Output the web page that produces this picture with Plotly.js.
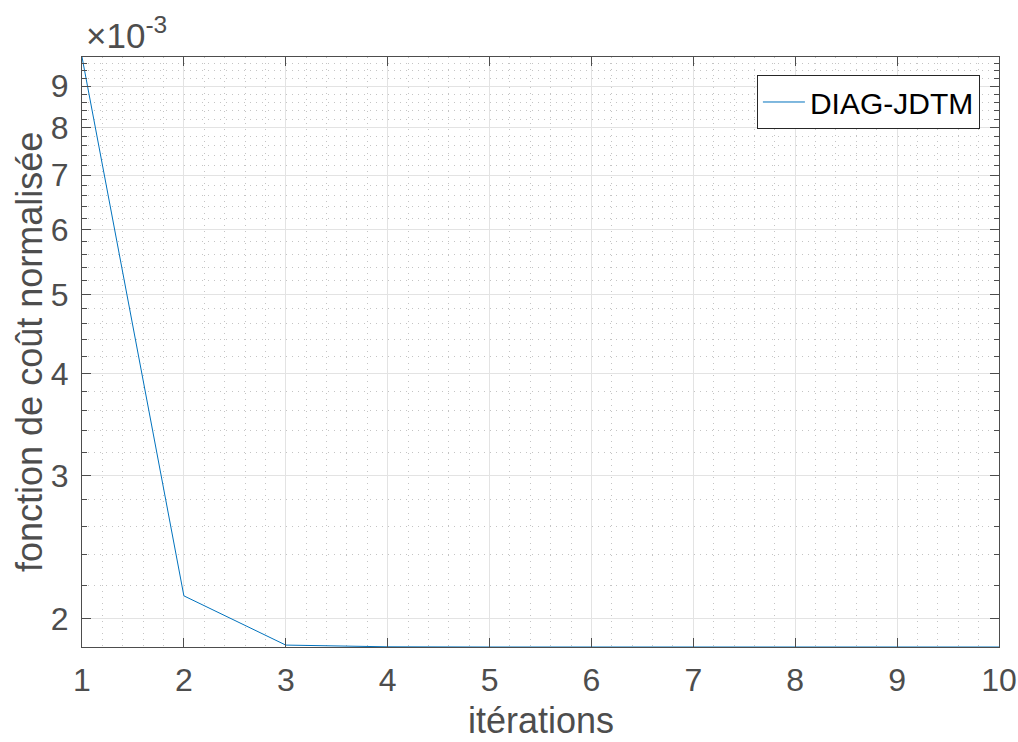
<!DOCTYPE html>
<html>
<head>
<meta charset="utf-8">
<script src="https://cdn.plot.ly/plotly-3.0.1.min.js"></script>
<style>html,body{margin:0;padding:0;background:#fff;}#chart{width:1018px;height:742px;}</style>
</head>
<body>
<div id="chart"></div>
<script>
var iterations = [1, 2, 3, 4, 5, 6, 7, 8, 9, 10];
var cost = [0.00977, 0.002135, 0.001858, 0.001849, 0.001848, 0.001848, 0.001848, 0.001848, 0.001848, 0.001848];
var seriesName = 'DIAG-JDTM';
var yTickVals = [0.002, 0.003, 0.004, 0.005, 0.006, 0.007, 0.008, 0.009];
var yTickText = ['2', '3', '4', '5', '6', '7', '8', '9'];
var xTickVals = [1, 2, 3, 4, 5, 6, 7, 8, 9, 10];
var xTitle = 'itérations';
var yTitle = 'fonction de coût normalisée';
var exponentLabel = '×10<sup>-3</sup>';

var ymin = Math.min.apply(null, cost), ymax = Math.max.apply(null, cost);
var axisColor = '#4d4d4d';
var font = 'Liberation Sans, Arial, sans-serif';
var minorDash = '1px,5px';

var trace = {
  x: iterations, y: cost, type: 'scatter', mode: 'lines', name: seriesName,
  line: {color: '#0072BD', width: 1}
};

var layout = {
  width: 1018, height: 742,
  margin: {l: 82, r: 19, t: 57, b: 95},
  paper_bgcolor: '#fff', plot_bgcolor: '#fff',
  font: {family: font, color: axisColor},
  showlegend: true,
  legend: {
    x: 0.736, y: 0.9695, xanchor: 'left', yanchor: 'top',
    bgcolor: '#fff', bordercolor: '#262626', borderwidth: 1,
    itemwidth: 42,
    font: {family: font, size: 30, color: '#000'}
  },
  xaxis: {
    range: [1, 10], tickvals: xTickVals, ticktext: xTickVals.map(String),
    ticks: 'inside', ticklen: 9, tickcolor: axisColor, tickwidth: 1,
    ticklabelstandoff: 5,
    showline: true, linecolor: axisColor, linewidth: 1, mirror: 'ticks',
    showgrid: true, gridcolor: '#e3e3e3', gridwidth: 1,
    zeroline: false,
    tickfont: {family: font, size: 32, color: axisColor},
    minor: {dtick: 0.2, tick0: 0, showgrid: true, gridcolor: '#c4c4c4', griddash: minorDash, gridwidth: 1, ticks: ''}
  },
  yaxis: {
    type: 'log', range: [Math.log10(ymin), Math.log10(ymax)],
    tickvals: yTickVals, ticktext: yTickText,
    ticks: 'inside', ticklen: 9, tickcolor: axisColor, tickwidth: 1,
    ticklabelstandoff: 6,
    showline: true, linecolor: axisColor, linewidth: 1, mirror: 'ticks',
    showgrid: true, gridcolor: '#e3e3e3', gridwidth: 1,
    zeroline: false,
    tickfont: {family: font, size: 32, color: axisColor},
    minor: {dtick: 'L0.0002', tick0: 0, showgrid: true, gridcolor: '#c4c4c4', griddash: minorDash, gridwidth: 1, ticks: 'inside', ticklen: 5, tickcolor: axisColor}
  },
  annotations: [{
    xref: 'paper', yref: 'paper', x: 0, y: 1, xanchor: 'left', yanchor: 'bottom',
    xshift: 2, yshift: 0,
    text: exponentLabel, showarrow: false,
    font: {family: font, size: 35, color: axisColor}
  }, {
    xref: 'paper', yref: 'paper', x: 0.5, y: 0, xanchor: 'center', yanchor: 'bottom',
    yshift: -95, borderpad: 0,
    text: xTitle, showarrow: false,
    font: {family: font, size: 36, color: axisColor}
  }, {
    xref: 'paper', yref: 'paper', x: 0, y: 0.5, xanchor: 'center', yanchor: 'middle',
    xshift: -53, textangle: -90,
    text: yTitle, showarrow: false,
    font: {family: font, size: 36, color: axisColor}
  }]
};

Plotly.newPlot('chart', [trace], layout, {displayModeBar: false, staticPlot: true});
</script>
</body>
</html>
